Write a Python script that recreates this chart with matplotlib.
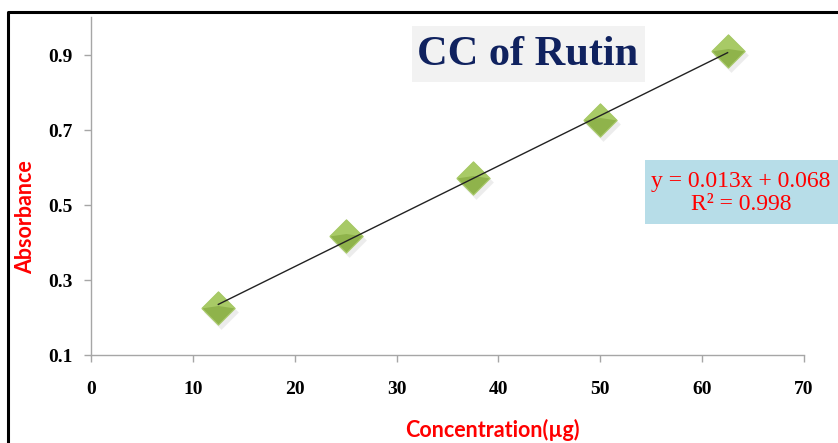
import numpy as np
import matplotlib
matplotlib.use("Agg")
import matplotlib.pyplot as plt
import matplotlib.transforms as mtransforms
from matplotlib.lines import Line2D
from matplotlib.patches import Rectangle

# calibration data for rutin
conc = [12.5, 25, 37.5, 50, 62.5]
absorbance = [0.226, 0.418, 0.571, 0.728, 0.910]
x_ticks = [0, 10, 20, 30, 40, 50, 60, 70]
y_ticks = [0.1, 0.3, 0.5, 0.7, 0.9]
eq_text = "y = 0.013x + 0.068\nR\u00b2 = 0.998"
title_text = "CC of Rutin"

fig = plt.figure(figsize=(8.38, 4.43), dpi=100)
ax = fig.add_axes([0.1086, 0.1986, 0.8508, 0.7619])

# linear trendline over the measured range
m, c = np.polyfit(conc, absorbance, 1)
xx = np.array([min(conc), max(conc)])
ax.plot(xx, m * xx + c, color="#222222", lw=1.0, zorder=5)

# faceted diamond markers
diamond = [(-1, 0), (0, 1), (1, 0), (0, -1), (-1, 0)]
top_half = [(-1, 0), (0, 1), (1, 0), (0, 0.15), (-1, 0)]
shadow = mtransforms.offset_copy(ax.transData, fig=fig, x=3, y=-4, units="dots")
ax.plot(conc, absorbance, ls="none", marker=diamond, ms=25, color="#7f7f7f",
        alpha=0.14, mec="none", transform=shadow, zorder=2)
ax.plot(conc, absorbance, ls="none", marker=diamond, ms=24, mfc="#8fb34b",
        mec="#aacb6d", mew=0.8, zorder=3)
ax.plot(conc, absorbance, ls="none", marker=top_half, ms=24, mfc="#a8ca66",
        mec="none", zorder=4)

ax.set_xlim(0, 70)
ax.set_ylim(0.1, 1.0)
ax.set_xticks(x_ticks)
ax.set_yticks(y_ticks)
ax.set_xticklabels([str(t) for t in x_ticks])
ax.set_yticklabels([f"{t:.1f}" for t in y_ticks])

for side in ["top", "right"]:
    ax.spines[side].set_visible(False)
for side in ["left", "bottom"]:
    ax.spines[side].set_color("#a6a6a6")
    ax.spines[side].set_linewidth(1.0)
ax.tick_params(axis="both", direction="out", color="#a6a6a6", length=5,
               width=1.0, labelsize=14)
ax.tick_params(axis="x", pad=14)
ax.tick_params(axis="y", pad=8)
for lab in ax.get_xticklabels() + ax.get_yticklabels():
    lab.set_fontfamily("Liberation Serif")
    lab.set_fontweight("bold")

fig.text(0.030, 0.509, "Absorbance", rotation=90, ha="center", va="center",
         color="#ff0000", fontsize=15.5, fontweight="bold", family="Lato")
fig.text(0.587, 0.029, "Concentration(\u00b5g)", ha="center", va="center",
         color="#ff0000", fontsize=15.5, fontweight="bold", family="Lato")

# title box
fig.add_artist(Rectangle((412 / 838, 1 - 82 / 443), 233 / 838, 56 / 443,
                         transform=fig.transFigure, facecolor="#f2f2f2",
                         edgecolor="none", zorder=1))
fig.text(528 / 838, 1 - 55 / 443, title_text, ha="center", va="center",
         color="#10225f", fontsize=30.5, fontweight="bold",
         family="Liberation Serif", zorder=2)

# equation box
fig.add_artist(Rectangle((645 / 838, 1 - 224 / 443), 193 / 838, 64 / 443,
                         transform=fig.transFigure, facecolor="#b7dde8",
                         edgecolor="none", zorder=1))
fig.text(741 / 838, 1 - 193 / 443, eq_text, ha="center", va="center",
         color="#ff0000", fontsize=17, family="Liberation Serif",
         linespacing=1.1, zorder=2)

# outer frame
fig.add_artist(Line2D([7.5 / 838, 7.5 / 838, 1.0], [0.0, 1 - 12 / 443, 1 - 12 / 443],
                      transform=fig.transFigure, color="black", lw=2.2))

fig.savefig("out.png", dpi=100)
